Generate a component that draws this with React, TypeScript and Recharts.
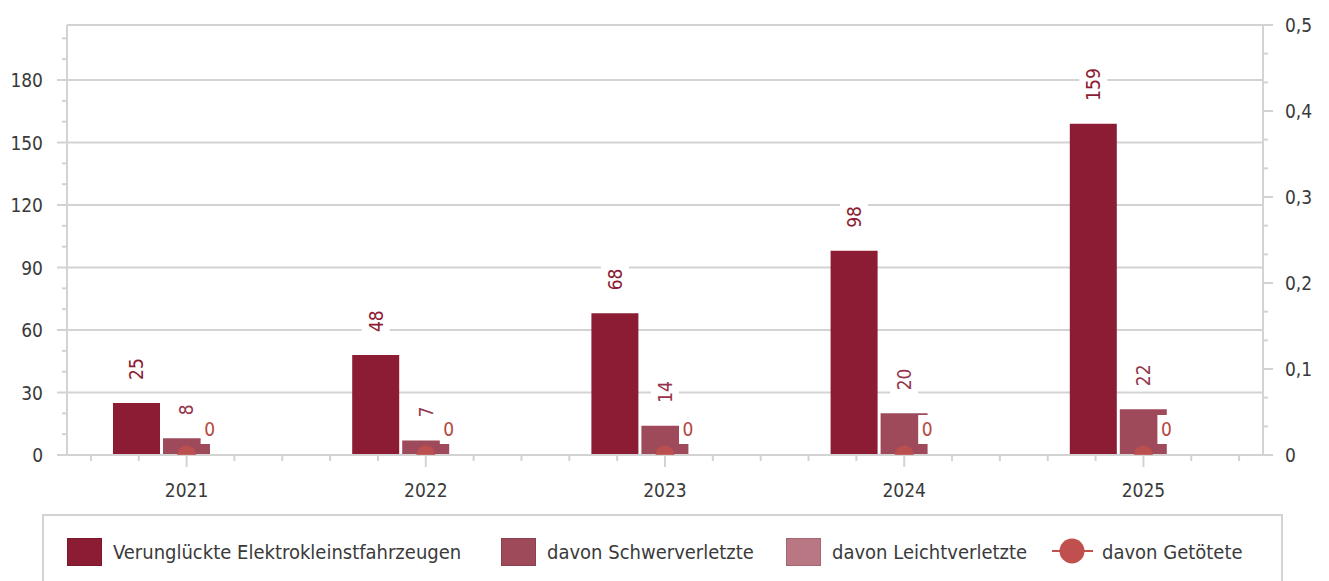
import React from 'react';
import { ComposedChart, Bar, Line, XAxis, YAxis, CartesianGrid, LabelList, Legend } from 'recharts';

// ---- data ----
const years = ['2021', '2022', '2023', '2024', '2025'];
const verunglueckte = [25, 48, 68, 98, 159];
const schwerverletzte = [8, 7, 14, 20, 22];
const leichtverletzte = [0, 0, 0, 0, 0];
const getoetete = [0, 0, 0, 0, 0];

const seriesNames = [
  'Verunglückte Elektrokleinstfahrzeugen',
  'davon Schwerverletzte',
  'davon Leichtverletzte',
  'davon Getötete',
];

const leftMajorTicks = [0, 30, 60, 90, 120, 150, 180];
const leftMinorTicks = [10, 20, 40, 50, 70, 80, 100, 110, 130, 140, 160, 170, 190, 200];
const leftMax = 206.4;
const rightMajorTicks = [0, 0.1, 0.2, 0.3, 0.4, 0.5];
const rightMajorLabels = ['0', '0,1', '0,2', '0,3', '0,4', '0,5'];
const rightMinorTicks = [0.0333, 0.0667, 0.1333, 0.1667, 0.2333, 0.2667, 0.3333, 0.3667, 0.4333, 0.4667];

const data = years.map((year, i) => ({
  year,
  total: verunglueckte[i],
  schwer: schwerverletzte[i],
  leicht: leichtverletzte[i],
  tot: getoetete[i],
}));

// ---- style ----
const FONT = "'DejaVu Sans Condensed', 'DejaVu Sans', sans-serif";
const GRID = '#d3d3d3';
const TEXT = '#3a3a3a';
const C_TOTAL = '#8b1c33';
const C_SCHWER = '#9e4a5b';
const C_LEICHT = '#b87783';
const C_TOT = '#c0504d';
const W = 1329;
const H = 581;
const LEFT_W = 67;
const RIGHT_W = 66;
const PLOT_W = W - LEFT_W - RIGHT_W;

const LeftTick = (props: any) => {
  const { x, y, payload } = props;
  const v = payload.value;
  const major = leftMajorTicks.includes(v);
  return (
    <g>
      <line x1={x - (major ? 10 : 5)} x2={x} y1={y} y2={y} stroke={GRID} strokeWidth={2} />
      {major && (
        <text x={x - 24} y={y} textAnchor="end" dominantBaseline="central" fontSize={19} fontFamily={FONT} fill={TEXT}>
          {v}
        </text>
      )}
    </g>
  );
};

const RightTick = (props: any) => {
  const { x, y, payload } = props;
  const v = payload.value;
  const idx = rightMajorTicks.findIndex((t) => Math.abs(t - v) < 1e-6);
  const major = idx >= 0;
  return (
    <g>
      <line x1={x} x2={x + (major ? 10 : 5)} y1={y} y2={y} stroke={GRID} strokeWidth={2} />
      {major && (
        <text x={x + 22} y={y} textAnchor="start" dominantBaseline="central" fontSize={19} fontFamily={FONT} fill={TEXT}>
          {rightMajorLabels[idx]}
        </text>
      )}
    </g>
  );
};

const XTick = (props: any) => {
  const { x, y, payload } = props;
  const step = PLOT_W / years.length / 5;
  return (
    <g>
      <line x1={x} x2={x} y1={y} y2={y + 12} stroke={GRID} strokeWidth={2} />
      {[-2, -1, 1, 2].map((k) => (
        <line key={k} x1={x + k * step} x2={x + k * step} y1={y} y2={y + 6} stroke={GRID} strokeWidth={2} />
      ))}
      <text x={x} y={y + 35} textAnchor="middle" dominantBaseline="central" fontSize={19} fontFamily={FONT} fill={TEXT}>
        {payload.value}
      </text>
    </g>
  );
};

const makeBarLabel = (color: string) => (props: any) => {
  const { x, y, width, value } = props;
  const cx = Number(x) + Number(width) / 2;
  const base = Number(y) - 23;
  const txt = String(value);
  const len = txt.length * 11;
  return (
    <g>
      <rect x={cx - 14} y={base - len - 5} width={28} height={len + 10} fill="#ffffff" />
      <text
        x={cx}
        y={base}
        transform={`rotate(-90 ${cx} ${base})`}
        textAnchor="start"
        dominantBaseline="central"
        fontSize={19}
        fontFamily={FONT}
        fill={color}
      >
        {txt}
      </text>
    </g>
  );
};

const TotLabel = (props: any) => {
  const vb = props.viewBox || {};
  const px = Number(props.x ?? vb.x);
  const py = Number(props.y ?? vb.y);
  return (
    <g>
      <rect x={px + 14} y={py - 40} width={18} height={29} fill="#ffffff" />
      <text x={px + 23} y={py - 26} textAnchor="middle" dominantBaseline="central" fontSize={19} fontFamily={FONT} fill="#b5473e">
        {props.value}
      </text>
    </g>
  );
};

const HalfDot = (props: any) => {
  const { cx, cy, index } = props;
  const r = 9.5;
  return (
    <path
      key={`dot-${index}`}
      d={`M${cx - r},${cy} A${r},${r} 0 0 1 ${cx + r},${cy} Z`}
      fill={C_TOT}
      fillOpacity={0.85}
    />
  );
};

const legendLeft = [67, 501, 786, 1052];

const LegendContent = (props: any) => {
  const payload: any[] = props.payload || [];
  return (
    <div
      style={{
        position: 'relative',
        boxSizing: 'border-box',
        width: 1241,
        height: 90,
        border: `2px solid ${GRID}`,
        background: '#fff',
        fontFamily: FONT,
      }}
    >
      {seriesNames.map((name, i) => {
        const entry = payload.find((p) => p.value === name);
        const color = entry ? entry.color : C_TOTAL;
        const isLine = entry && entry.type === 'line';
        const left = legendLeft[i] - 44;
        return (
          <div key={name} style={{ position: 'absolute', left, top: 22, height: 28, display: 'flex', alignItems: 'center' }}>
            {isLine ? (
              <svg width={41} height={28} style={{ display: 'block' }}>
                <line x1={0} x2={41} y1={13} y2={13} stroke={color} strokeWidth={2} />
                <circle cx={20} cy={13} r={12.5} fill={color} />
              </svg>
            ) : (
              <div style={{ width: 35, height: 28, background: color, boxSizing: 'border-box', border: '1px solid rgba(0,0,0,0.12)' }} />
            )}
            <span style={{ marginLeft: isLine ? 9 : 11, fontSize: 20, color: TEXT, whiteSpace: 'nowrap', lineHeight: '28px' }}>{name}</span>
          </div>
        );
      })}
    </div>
  );
};

export default function App() {
  const leftTicks = [...leftMajorTicks, ...leftMinorTicks].sort((a, b) => a - b);
  const rightTicks = [...rightMajorTicks, ...rightMinorTicks].sort((a, b) => a - b);
  const gridValues = [...leftMajorTicks.filter((t) => t > 0), leftMax];
  return (
    <div style={{ position: 'absolute', left: 0, top: 0, width: W, height: H, background: '#ffffff', overflow: 'hidden' }}>
      <ComposedChart
        width={W}
        height={H}
        data={data}
        margin={{ top: 25, right: 0, bottom: 0, left: 0 }}
        barSize={47}
        barGap={3}
      >
        <CartesianGrid
          yAxisId="left"
          vertical={false}
          horizontalValues={gridValues}
          stroke={GRID}
          strokeWidth={2}
        />
        <XAxis
          dataKey="year"
          height={126}
          axisLine={{ stroke: GRID, strokeWidth: 2 }}
          tickLine={false}
          tickSize={0}
          tickMargin={0}
          interval={0}
          tick={<XTick />}
        />
        <YAxis
          yAxisId="left"
          orientation="left"
          width={LEFT_W}
          type="number"
          domain={[0, leftMax]}
          allowDataOverflow
          ticks={leftTicks}
          interval={0}
          axisLine={{ stroke: GRID, strokeWidth: 2 }}
          tickLine={false}
          tickSize={0}
          tickMargin={0}
          tick={<LeftTick />}
        />
        <YAxis
          yAxisId="right"
          orientation="right"
          width={RIGHT_W}
          type="number"
          domain={[0, 0.5]}
          ticks={rightTicks}
          interval={0}
          axisLine={{ stroke: GRID, strokeWidth: 2 }}
          tickLine={false}
          tickSize={0}
          tickMargin={0}
          tick={<RightTick />}
        />
        <Bar yAxisId="left" dataKey="total" name={seriesNames[0]} fill={C_TOTAL} isAnimationActive={false} legendType="rect">
          <LabelList dataKey="total" content={makeBarLabel(C_TOTAL)} />
        </Bar>
        <Bar yAxisId="left" dataKey="schwer" name={seriesNames[1]} fill={C_SCHWER} isAnimationActive={false} legendType="rect">
          <LabelList dataKey="schwer" content={makeBarLabel('#94354c')} />
        </Bar>
        <Bar yAxisId="left" dataKey="leicht" name={seriesNames[2]} fill={C_LEICHT} isAnimationActive={false} legendType="rect" />
        <Line
          yAxisId="right"
          dataKey="tot"
          name={seriesNames[3]}
          stroke={C_TOT}
          strokeWidth={2}
          dot={HalfDot}
          activeDot={false}
          isAnimationActive={false}
          legendType="line"
        >
          <LabelList dataKey="tot" content={TotLabel} />
        </Line>
        <Legend
          layout="horizontal"
          verticalAlign="middle"
          align="center"
          wrapperStyle={{ left: 42, top: 514, width: 1241, height: 90 }}
          content={LegendContent}
        />
      </ComposedChart>
    </div>
  );
}
